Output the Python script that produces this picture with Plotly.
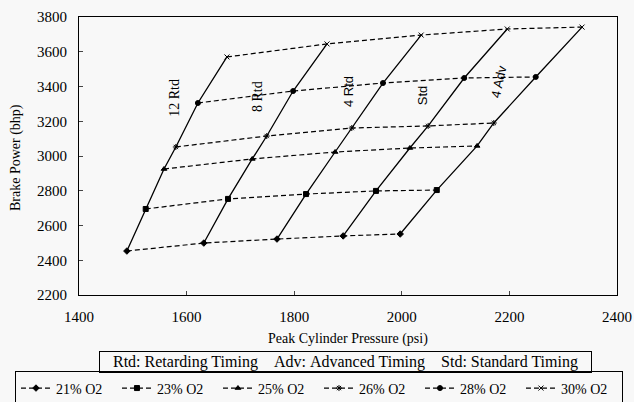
import plotly.graph_objects as go

# Timing settings (columns) and O2 levels (rows)
timings = ["12 Rtd", "8 Rtd", "4 Rtd", "Std", "4 Adv"]
o2_levels = ["21% O2", "23% O2", "25% O2", "26% O2", "28% O2", "30% O2"]

# Peak cylinder pressure (psi) per O2 level, across timings
p21 = [1489, 1632, 1768, 1891, 1997]
p23 = [1524, 1677, 1822, 1952, 2065]
p25 = [1558, 1722, 1876, 2015, 2140]
p26 = [1580, 1749, 1907, 2049, 2171]
p28 = [1621, 1798, 1965, 2116, 2249]
p30 = [1675, 1861, 2036, 2196, 2335]

# Brake power (bhp) per O2 level, across timings
b21 = [2453, 2499, 2522, 2540, 2551]
b23 = [2695, 2753, 2781, 2799, 2804]
b25 = [2925, 2983, 3023, 3046, 3058]
b26 = [3052, 3115, 3161, 3173, 3190]
b28 = [3305, 3374, 3420, 3449, 3455]
b30 = [3570, 3645, 3696, 3731, 3742]

pressures = [p21, p23, p25, p26, p28, p30]
powers = [b21, b23, b25, b26, b28, b30]
markers = ["diamond", "square", "triangle-up", "asterisk-open", "circle", "x-thin-open"]

x_ticks = [1400, 1600, 1800, 2000, 2200, 2400]
y_ticks = [2200, 2400, 2600, 2800, 3000, 3200, 3400, 3600, 3800]

SERIF = "Liberation Serif, Times New Roman, serif"
SANS = "Liberation Sans, Arial, sans-serif"
BG = "#f8f8f8"

fig = go.Figure()

# solid lines: one per timing
for j, t in enumerate(timings):
    fig.add_trace(go.Scatter(
        x=[p[j] for p in pressures], y=[b[j] for b in powers],
        mode="lines", line=dict(color="black", width=1.3),
        showlegend=False, hoverinfo="skip"))

# dashed lines: one per O2 level
for i, name in enumerate(o2_levels):
    fig.add_trace(go.Scatter(
        x=pressures[i], y=powers[i], name=name,
        mode="lines+markers",
        line=dict(color="black", width=1.2, dash="5px,3px"),
        marker=dict(symbol=markers[i], size=5, color="black",
                    line=dict(color="black", width=1))))

# timing labels
labels = [
    ("12 Rtd", 1578, 3334, -90, SERIF, 14),
    ("8 Rtd", 1733, 3340, -90, SERIF, 14),
    ("4 Rtd", 1900, 3368, -90, SANS, 13),
    ("Std", 2038, 3351, -90, SANS, 13),
    ("4 Adv", 2181, 3426, -78, SANS, 13),
]
for txt, x, y, ang, fam, sz in labels:
    fig.add_annotation(x=x, y=y, xref="x", yref="y", text=txt, textangle=ang,
                       showarrow=False, font=dict(family=fam, size=sz, color="black"))

# axis titles
fig.add_annotation(x=0.5, y=-0.158, xref="paper", yref="paper",
                   text="Peak Cylinder Pressure (psi)", showarrow=False,
                   font=dict(family=SERIF, size=14, color="black"), yanchor="middle")
fig.add_annotation(x=-0.117, y=0.493, xref="paper", yref="paper",
                   text="Brake Power (bhp)", textangle=-90, showarrow=False,
                   font=dict(family=SERIF, size=14, color="black"), xanchor="center")

# abbreviation box
sp = "&nbsp;"
fig.add_annotation(x=0.496, y=-0.241, xref="paper", yref="paper",
                   text=(sp * 3 + "Rtd:" + sp + "Retarding Timing" + sp * 4 +
                         "Adv:" + sp + "Advanced Timing" + sp * 4 +
                         "Std:" + sp + "Standard Timing" + sp * 3),
                   showarrow=False, bordercolor="black", borderwidth=1, borderpad=1,
                   font=dict(family=SERIF, size=16, color="black"),
                   xanchor="center", yanchor="middle")

fig.update_layout(
    width=634, height=402,
    margin=dict(l=79, r=17, t=17, b=107, autoexpand=False),
    paper_bgcolor=BG, plot_bgcolor=BG,
    font=dict(family=SERIF, size=14, color="black"),
    legend=dict(orientation="h", x=-0.119, y=-0.275, xanchor="left", yanchor="top",
                bordercolor="black", borderwidth=1, bgcolor="rgba(0,0,0,0)",
                font=dict(family=SERIF, size=14, color="black"),
                itemwidth=30, tracegroupgap=0, entrywidth=56, entrywidthmode="pixels"),
    xaxis=dict(range=[1400, 2400], tickvals=x_ticks, ticks="inside", ticklen=4,
               showline=True, mirror=True, linecolor="black", linewidth=1,
               showgrid=False, zeroline=False, tickfont=dict(size=15),
               ticklabelstandoff=8),
    yaxis=dict(range=[2200, 3800], tickvals=y_ticks, ticks="inside", ticklen=4,
               showline=True, mirror=True, linecolor="black", linewidth=1,
               showgrid=False, zeroline=False, tickfont=dict(size=15),
               ticklabelstandoff=8),
)

fig.write_html("out.html", config={"displayModeBar": False},
               post_script="document.body.style.margin='0';document.body.style.overflow='hidden';")
